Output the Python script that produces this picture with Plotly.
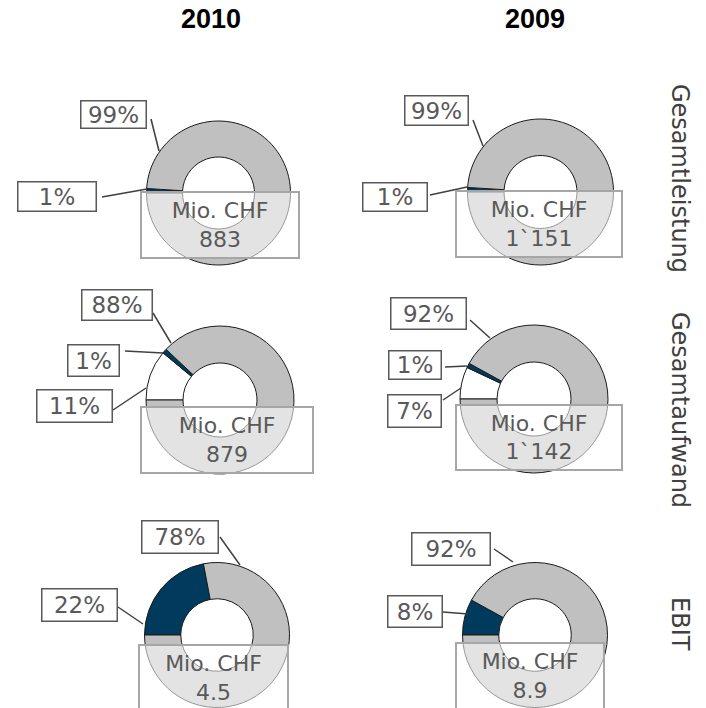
import plotly.graph_objects as go

# ---------------- data ----------------
years = ["2010", "2009"]
row_names = ["Gesamtleistung", "Gesamtaufwand", "EBIT"]
segments = ["Übrige", "Anteil", "Hauptanteil"]
shares_2010 = [[0, 1, 99], [11, 1, 88], [0, 22, 78]]
shares_2009 = [[0, 1, 99], [7, 1, 92], [0, 8, 92]]
totals_2010 = ["883", "879", "4.5"]
totals_2009 = ["1`151", "1`142", "8.9"]
unit_label = "Mio. CHF"

shares = [shares_2010, shares_2009]
totals = [totals_2010, totals_2009]

# ---------------- styles / layout ----------------
W, H = 706, 708
colors = ["#ffffff", "#003a5d", "#c0c0c0"]
txt_col = "#595959"
font_fam = "DejaVu Sans, Verdana, sans-serif"

# pie centre (px) and radius per (row, col)
pie_geom = {
    (0, 0): (218.5, 193, 72), (0, 1): (540.5, 192, 73),
    (1, 0): (220, 400, 74), (1, 1): (534, 399, 74),
    (2, 0): (217, 635, 72.5), (2, 1): (535, 635, 72.5),
}
# total boxes (x0, x1, y0, y1) px
total_box = {
    (0, 0): (141, 299, 192, 258), (0, 1): (456, 622, 191, 257),
    (1, 0): (141, 313, 407, 473), (1, 1): (456, 622, 405, 470),
    (2, 0): (139, 288, 645, 711), (2, 1): (456, 604, 643, 709),
}
# percentage label boxes and leader lines, keyed by (row, col, segment)
label_layout = {
    (0, 0, 2): ((80, 147, 100, 129), (151, 119, 159, 151)),
    (0, 0, 1): ((17, 97, 181, 212), (102, 197, 147, 189)),
    (0, 1, 2): ((404, 469, 95, 126), (473, 120, 483, 146)),
    (0, 1, 1): ((362, 428, 182, 212), (430, 195, 467, 187)),
    (1, 0, 2): ((81, 153, 289, 321), (153, 313, 171, 343)),
    (1, 0, 1): ((67, 120, 344, 377), (125, 351, 163, 353)),
    (1, 0, 0): ((36, 113, 389, 423), (113, 410, 146, 388)),
    (1, 1, 2): ((390, 467, 297, 330), (470, 320, 490, 338)),
    (1, 1, 1): ((388, 442, 350, 380), (445, 367, 467, 366)),
    (1, 1, 0): ((387, 442, 394, 428), (443, 400, 461, 388)),
    (2, 0, 2): ((141, 219, 520, 554), (220, 537, 240, 565)),
    (2, 0, 1): ((41, 118, 588, 622), (118, 607, 143, 624)),
    (2, 1, 2): ((411, 491, 532, 566), (494, 549, 513, 562)),
    (2, 1, 1): ((387, 443, 595, 628), (443, 612, 468, 614)),
}
title_pos = [(211, 19), (534.5, 19)]
row_label_pos = [(680, 178), (680, 410), (680, 624)]


def px(x):
    return x / W


def py(y):
    return 1 - y / H


fig = go.Figure()
annotations = []
shapes = []

for c in range(2):
    for r in range(3):
        cx, cy, rad = pie_geom[(r, c)]
        fig.add_trace(go.Pie(
            labels=segments,
            values=shares[c][r],
            sort=False,
            direction="clockwise",
            rotation=270,
            hole=0.5,
            marker=dict(colors=colors, line=dict(color="#1a1a1a", width=1)),
            textinfo="none",
            hoverinfo="label+value",
            showlegend=False,
            domain=dict(x=[px(cx - rad), px(cx + rad)],
                        y=[max(0, py(cy + rad)), py(cy - rad)]),
        ))
        # percentage labels
        for s, v in enumerate(shares[c][r]):
            key = (r, c, s)
            if v == 0 or key not in label_layout:
                continue
            (x0, x1, y0, y1), (lx0, ly0, lx1, ly1) = label_layout[key]
            shapes.append(dict(type="line", xref="paper", yref="paper",
                               x0=px(lx0), y0=py(ly0), x1=px(lx1), y1=py(ly1),
                               line=dict(color="#404040", width=1.5)))
            annotations.append(dict(
                text=f"{v}%", xref="paper", yref="paper",
                x=px((x0 + x1) / 2), y=py((y0 + y1) / 2),
                xanchor="center", yanchor="middle", showarrow=False,
                width=x1 - x0 - 3, height=y1 - y0 - 3, borderpad=0,
                bordercolor="#595959", borderwidth=1.5, bgcolor="#ffffff",
                font=dict(family=font_fam, size=23, color=txt_col)))
        # total box
        x0, x1, y0, y1 = total_box[(r, c)]
        annotations.append(dict(
            text=f"{unit_label}<br>{totals[c][r]}", xref="paper", yref="paper",
            x=px((x0 + x1) / 2), y=py((y0 + y1) / 2),
            xanchor="center", yanchor="middle", showarrow=False,
            width=x1 - x0 - 2, height=y1 - y0 - 2, borderpad=0,
            bordercolor="#a6a6a6", borderwidth=2,
            bgcolor="rgba(255,255,255,0.55)",
            font=dict(family=font_fam, size=22, color=txt_col)))

for c, yr in enumerate(years):
    x, y = title_pos[c]
    annotations.append(dict(
        text=f"<b>{yr}</b>", xref="paper", yref="paper", x=px(x), y=py(y),
        xanchor="center", yanchor="middle", showarrow=False,
        font=dict(family="Liberation Sans, Arial, sans-serif", size=27, color="#000000")))

for r, name in enumerate(row_names):
    x, y = row_label_pos[r]
    annotations.append(dict(
        text=name, xref="paper", yref="paper", x=px(x), y=py(y),
        xanchor="center", yanchor="middle", showarrow=False, textangle=90,
        font=dict(family=font_fam, size=24, color="#404040")))

fig.update_layout(
    width=W, height=H,
    margin=dict(l=0, r=0, t=0, b=0),
    paper_bgcolor="#ffffff", plot_bgcolor="#ffffff",
    annotations=annotations, shapes=shapes,
)

# remove the default 8px page margin so the figure fills the window exactly
fig.write_html("out.html", config={"displayModeBar": False},
               post_script="document.body.style.margin='0';")
